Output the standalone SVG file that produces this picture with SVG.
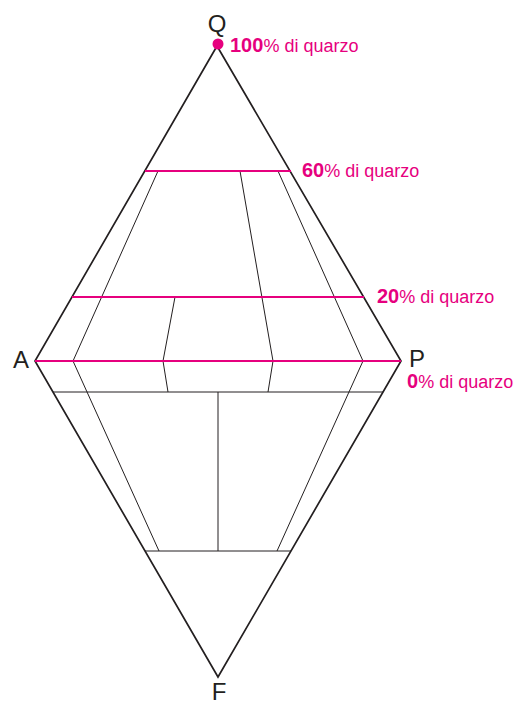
<svg xmlns="http://www.w3.org/2000/svg" width="515" height="706" viewBox="0 0 515 706">
<style>
.outer{fill:none;stroke:#231f20;stroke-width:1.7;stroke-linejoin:miter}
.inner{fill:none;stroke:#231f20;stroke-width:1}
.mag{fill:none;stroke:#e6007e;stroke-width:2}
.lbl{font-family:"Liberation Sans",Arial,sans-serif;font-size:24px;fill:#231f20}
.pct{font-family:"Liberation Sans",Arial,sans-serif;font-size:18px;fill:#e6007e}
.pct .b{font-weight:bold;font-size:20px}
</style>
<rect width="515" height="706" fill="#fff"/>
<g id="connectors">
<polygon class="outer" points="217,46 35,361 218,677 401,361"/>
<line class="inner" x1="53" y1="392" x2="383" y2="392"/>
<line class="inner" x1="145" y1="551" x2="291" y2="551"/>
<polyline class="inner" points="158,171 73,361 159,551"/>
<polyline class="inner" points="278,171 363,361 277,551"/>
<polyline class="inner" points="240,171 273,361 268,392"/>
<polyline class="inner" points="175,297 163,361 168,392"/>
<line class="inner" x1="218" y1="392" x2="218" y2="551"/>
<line class="mag" x1="145" y1="171" x2="291" y2="171"/>
<line class="mag" x1="72" y1="297" x2="364" y2="297"/>
<line class="mag" x1="35" y1="361" x2="401" y2="361"/>
</g>
<g id="Q">
<circle cx="218" cy="44" r="5.5" fill="#e6007e"/>
<text class="lbl" x="217" y="32" text-anchor="middle">Q</text>
<text class="pct" x="230" y="52"><tspan class="b">100</tspan>% di quarzo</text>
</g>
<g id="l60"><text class="pct" x="302" y="177"><tspan class="b">60</tspan>% di quarzo</text></g>
<g id="l20"><text class="pct" x="377" y="303"><tspan class="b">20</tspan>% di quarzo</text></g>
<g id="A"><text class="lbl" x="21" y="368" text-anchor="middle">A</text></g>
<g id="P">
<text class="lbl" x="417" y="367" text-anchor="middle">P</text>
<text class="pct" x="407" y="388"><tspan class="b">0</tspan>% di quarzo</text>
</g>
<g id="F"><text class="lbl" x="219" y="700" text-anchor="middle">F</text></g>
</svg>
